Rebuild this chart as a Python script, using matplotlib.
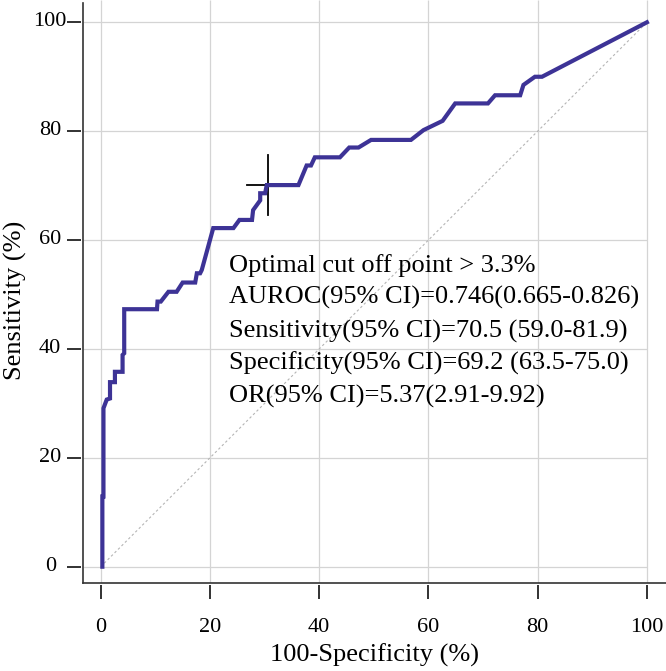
import matplotlib
matplotlib.use("Agg")
import matplotlib.pyplot as plt
from matplotlib.transforms import ScaledTranslation

plt.rcParams['font.family'] = ['Liberation Serif', 'DejaVu Serif']

# ROC curve (100-Specificity %, Sensitivity %)
fpr = [0.3, 0.3, 0.5, 0.5, 1.1, 1.7, 1.7, 2.6, 2.6, 4.0, 4.0, 4.3, 4.3, 10.3, 10.4, 11.0,
       12.4, 13.9, 15.0, 17.3, 17.6, 18.2, 18.5, 20.6, 24.3, 25.4, 27.7, 27.9, 29.2, 29.2,
       30.1, 30.4, 36.2, 37.7, 38.5, 39.2, 43.8, 45.5, 47.2, 49.5, 56.8, 59.1, 62.6, 64.9,
       70.9, 72.2, 76.8, 77.4, 79.5, 80.8, 100.0]
tpr = [0.0, 12.9, 12.9, 29.1, 30.7, 30.9, 33.9, 33.9, 35.8, 35.8, 38.9, 39.2, 47.3, 47.3, 48.7, 48.7,
       50.5, 50.5, 52.2, 52.2, 53.9, 53.9, 54.5, 62.2, 62.2, 63.7, 63.7, 65.5, 67.3, 68.6,
       68.6, 70.1, 70.1, 73.7, 73.7, 75.2, 75.2, 77.0, 77.0, 78.4, 78.4, 80.2, 81.9, 85.1,
       85.1, 86.6, 86.6, 88.5, 90.0, 90.0, 100.0]

# optimal cut-off point marker (centre and arm extents)
cut_x = 30.7
cut_y = 70.2
cut_x_range = [26.7, 34.7]
cut_y_range = [64.6, 75.6]

ticks = [0, 20, 40, 60, 80, 100]
diag = [0, 100]

stats_lines = [
    "Optimal cut off point > 3.3%",
    "AUROC(95% CI)=0.746(0.665-0.826)",
    "Sensitivity(95% CI)=70.5 (59.0-81.9)",
    "Specificity(95% CI)=69.2 (63.5-75.0)",
    "OR(95% CI)=5.37(2.91-9.92)",
]
stats_y = [55.4, 49.4, 43.3, 37.3, 31.2]

W, H = 666, 671
fig = plt.figure(figsize=(W / 100, H / 100), dpi=100)
left_px, bottom_px = 82.7, 582.7
ax = fig.add_axes([left_px / W, (H - bottom_px) / H, (W - left_px) / W, bottom_px / H])
ax.set_xlim(-3.30, 103.5)
ax.set_ylim(-2.94, 104.1)

grid_c = '#d4d4d4'
ax.hlines(ticks, -3.30, 100, colors=grid_c, lw=0.9, zorder=1)
ax.vlines(ticks, -2.94, 104.1, colors=grid_c, lw=0.9, zorder=1)

ax.plot(diag, diag, color='#b5b5b5', lw=0.8, ls=(0, (2.2, 2.2)), zorder=2)
ax.plot(cut_x_range, [cut_y, cut_y], color='black', lw=1.3, zorder=2.5)
ax.plot([cut_x, cut_x], cut_y_range, color='black', lw=1.3, zorder=2.5)
ax.plot(fpr, tpr, color='#3d3396', lw=3.0, solid_joinstyle='miter', zorder=3, clip_on=False)

for s, yy in zip(stats_lines, stats_y):
    ax.text(23.5, yy, s, fontsize=19, va='center', ha='left', color='black', zorder=5)

# frame (L-shape)
for sp in ax.spines.values():
    sp.set_visible(False)
ax.plot([0, 0], [0, 0.995], transform=ax.transAxes, color='#333333', lw=1.2, clip_on=False)
ax.plot([0, 1], [0, 0], transform=ax.transAxes, color='#333333', lw=1.2, clip_on=False)
ax.spines['left'].set_position(('outward', 1.2))
ax.spines['bottom'].set_position(('outward', 1.7))

ax.set_xticks(ticks)
ax.set_yticks(ticks)
ax.set_xticklabels([str(t) for t in ticks])
ax.set_yticklabels([str(t) for t in ticks])
ax.tick_params(axis='both', direction='out', length=10, width=1.3, color='#222222',
               labelsize=16, labelcolor='black')
ax.tick_params(axis='y', pad=12.2)
ax.tick_params(axis='x', pad=14)
off = ScaledTranslation(0, 3 / 100, fig.dpi_scale_trans)
for lab in ax.get_yticklabels():
    lab.set_horizontalalignment('center')
    lab.set_transform(lab.get_transform() + off)

fig.text(375 / W, 1 - 655 / H, "100-Specificity (%)", fontsize=19, ha='center', va='center')
fig.text(15 / W, 1 - 300 / H, "Sensitivity (%)", fontsize=19, ha='center', va='center',
         rotation=90)

fig.savefig("out.png", dpi=100)
